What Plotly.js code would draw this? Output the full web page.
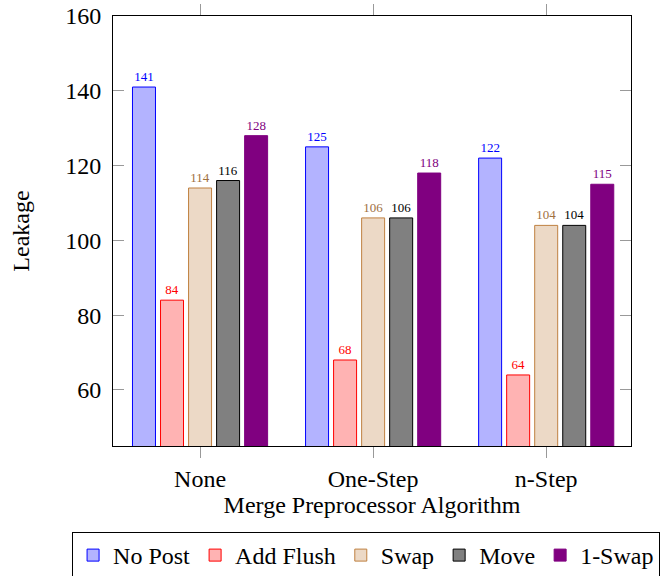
<!DOCTYPE html>
<html>
<head>
<meta charset="utf-8">
<script src="https://cdn.plot.ly/plotly-3.0.1.min.js"></script>
<style>html,body{margin:0;padding:0;background:#fff;}#chart{width:663px;height:576px;}</style>
</head>
<body>
<div id="chart"></div>
<script>
const categories = ["None", "One-Step", "n-Step"];
const seriesNames = ["No Post", "Add Flush", "Swap", "Move", "1-Swap"];
const noPost = [141, 125, 122];
const addFlush = [84, 68, 64];
const swap = [114, 106, 104];
const move = [116, 106, 104];
const oneSwap = [128, 118, 115];
const yTicks = [60, 80, 100, 120, 140, 160];

const FONT = "'Liberation Serif', 'Times New Roman', Times, 'DejaVu Serif', serif";
const seriesValues = [noPost, addFlush, swap, move, oneSwap];
const fills = ["#b3b3ff", "#ffb3b3", "#ecd9c6", "#808080", "#800080"];
const lines = ["#0000ff", "#ff0000", "#bf8040", "#000000", "#800080"];
const textCols = ["#0000ff", "#ff0000", "#a0703f", "#000000", "#800080"];

const traces = seriesValues.map((vals, i) => ({
  type: "bar",
  name: seriesNames[i],
  x: categories,
  y: vals,
  text: vals.map(String),
  textposition: "outside",
  textfont: {family: FONT, size: 13, color: textCols[i]},
  cliponaxis: false,
  marker: {color: fills[i], line: {color: lines[i], width: 1}}
}));

const layout = {
  width: 663, height: 576,
  margin: {l: 113, r: 32, t: 16, b: 130, autoexpand: false},
  paper_bgcolor: "#fff", plot_bgcolor: "#fff",
  font: {family: FONT, size: 24, color: "#000"},
  barmode: "group",
  bargap: 0.19,
  bargroupgap: 0.18,
  showlegend: true,
  xaxis: {
    range: [-0.503, 2.49],
    showline: true, mirror: "ticks", linecolor: "#000", linewidth: 1,
    ticks: "outside", ticklen: 11, tickcolor: "#999", tickwidth: 1,
    showgrid: false, zeroline: false,
    tickfont: {family: FONT, size: 24},
    title: {text: "Merge Preprocessor Algorithm", font: {family: FONT, size: 24}, standoff: 0}
  },
  yaxis: {
    range: [45, 160],
    tickvals: yTicks,
    showline: true, mirror: "ticks", linecolor: "#000", linewidth: 1,
    ticks: "inside", ticklen: 11, tickcolor: "#999", tickwidth: 1,
    showgrid: false, zeroline: false,
    ticklabelstandoff: 6,
    tickfont: {family: FONT, size: 24},
    title: {text: "Leakage", font: {family: FONT, size: 24}, standoff: 28}
  },
  legend: {
    orientation: "h",
    x: -0.079, xanchor: "left",
    y: -0.2, yanchor: "top",
    bordercolor: "#000", borderwidth: 1,
    font: {family: FONT, size: 24},
    tracegroupgap: 0
  }
};

Plotly.newPlot("chart", traces, layout, {displayModeBar: false, staticPlot: true});
</script>
</body>
</html>
